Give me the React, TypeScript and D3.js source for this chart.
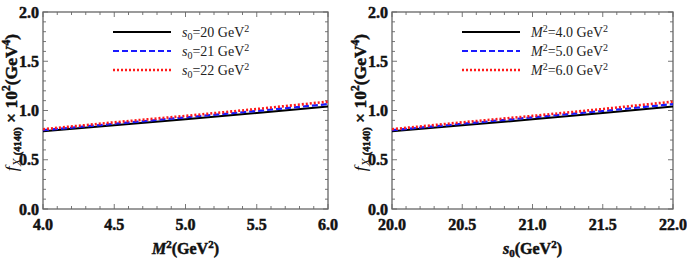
import React, { useEffect, useRef } from 'react';
import * as d3 from 'd3';

// decay constant vs. Borel mass (left) and threshold (right)
const borelM2 = [4.0, 4.5, 5.0, 5.5, 6.0];
const thresholdS0 = [20.0, 20.5, 21.0, 21.5, 22.0];

const lowSeries = [0.79, 0.85, 0.91, 0.975, 1.04];
const midSeries = [0.8, 0.865, 0.93, 0.995, 1.065];
const highSeries = [0.81, 0.88, 0.945, 1.015, 1.09];

const leftLegend = ['20', '21', '22'];
const rightLegend = ['4.0', '5.0', '6.0'];

const yTicks = [0, 0.5, 1.0, 1.5, 2.0];

const FONT = '"Liberation Serif", "Times New Roman", serif';

const styles = [
  { color: '#000000', dash: null, width: 2 },
  { color: '#1a1aff', dash: '6,3', width: 2.2 },
  { color: '#ff1a1a', dash: '2,2', width: 2.6 },
];

interface PanelProps {
  left: number;
  width: number;
  xs: number[];
  xDomain: [number, number];
  legend: string[];
  legendKind: 's0' | 'M2';
  xTitle: 's0' | 'M2';
}

// faux-bold: a thin stroke of the same colour thickens the glyphs
function heavy(sel: d3.Selection<SVGTextElement, unknown, null, undefined>) {
  return sel.attr('font-weight', 'bold').attr('stroke', '#111').attr('stroke-width', 0.5)
    .attr('fill', '#111');
}

function Panel({ left, width, xs, xDomain, legend, legendKind, xTitle }: PanelProps) {
  const ref = useRef<SVGGElement>(null);

  useEffect(() => {
    if (!ref.current) return;
    const g = d3.select(ref.current);
    g.selectAll('*').remove();

    const w = width;
    const top = 12;
    const bottom = 209;

    const x = d3.scaleLinear().domain(xDomain).range([0, w]);
    const y = d3.scaleLinear().domain([0, 2]).range([bottom, top]);

    // ticks on all four sides, pointing inward
    const xMinor = d3.range(xDomain[0], xDomain[1] + 1e-9, 0.1);
    const yMinor = d3.range(0, 2 + 1e-9, 0.1);
    const tickColor = '#777';
    xMinor.forEach((v, i) => {
      const len = i % 5 === 0 ? 5 : 3;
      const px = x(v);
      g.append('line').attr('x1', px).attr('x2', px).attr('y1', bottom).attr('y2', bottom - len)
        .attr('stroke', tickColor).attr('stroke-width', 1);
      g.append('line').attr('x1', px).attr('x2', px).attr('y1', top).attr('y2', top + len)
        .attr('stroke', tickColor).attr('stroke-width', 1);
    });
    yMinor.forEach((v, i) => {
      const len = i % 5 === 0 ? 5 : 3;
      const py = y(v);
      g.append('line').attr('x1', 0).attr('x2', len).attr('y1', py).attr('y2', py)
        .attr('stroke', tickColor).attr('stroke-width', 1);
      g.append('line').attr('x1', w).attr('x2', w - len).attr('y1', py).attr('y2', py)
        .attr('stroke', tickColor).attr('stroke-width', 1);
    });

    g.append('rect').attr('x', 0).attr('y', top).attr('width', w).attr('height', bottom - top)
      .attr('fill', 'none').attr('stroke', '#666').attr('stroke-width', 1.3);

    // tick labels
    const xTicks = d3.range(xDomain[0], xDomain[1] + 1e-9, 0.5);
    xTicks.forEach(v => {
      heavy(g.append('text').attr('x', x(v)).attr('y', 230).attr('text-anchor', 'middle')
        .attr('font-family', FONT).attr('font-size', 16)).text(v.toFixed(1));
    });
    yTicks.forEach(v => {
      heavy(g.append('text').attr('x', -4).attr('y', y(v) + 5.5).attr('text-anchor', 'end')
        .attr('font-family', FONT).attr('font-size', 16)).text(v.toFixed(1));
    });

    // curves
    const series = [lowSeries, midSeries, highSeries];
    const line = d3.line<number>().x((_, i) => x(xs[i])).y(d => y(d));
    series.forEach((s, i) => {
      const st = styles[i];
      const p = g.append('path').attr('d', line(s)).attr('fill', 'none')
        .attr('stroke', st.color).attr('stroke-width', st.width);
      if (st.dash) p.attr('stroke-dasharray', st.dash);
    });

    // legend
    legend.forEach((lab, i) => {
      const st = styles[i];
      const ly = 32 + i * 19;
      const p = g.append('line').attr('x1', 70).attr('x2', 128).attr('y1', ly).attr('y2', ly)
        .attr('stroke', st.color).attr('stroke-width', st.width);
      if (st.dash) p.attr('stroke-dasharray', st.dash);
      const t = g.append('text').attr('x', 139).attr('y', ly + 4.5)
        .attr('font-family', FONT).attr('font-size', 14).attr('fill', '#222');
      if (legendKind === 's0') {
        t.append('tspan').attr('font-style', 'italic').text('s');
        t.append('tspan').attr('font-size', 10).attr('dy', 3).text('0');
        t.append('tspan').attr('dy', -3).text(`=${lab} GeV`);
        t.append('tspan').attr('font-size', 10).attr('dy', -5).text('2');
      } else {
        t.append('tspan').attr('font-style', 'italic').text('M');
        t.append('tspan').attr('font-size', 10).attr('dy', -5).text('2');
        t.append('tspan').attr('dy', 5).text(`=${lab} GeV`);
        t.append('tspan').attr('font-size', 10).attr('dy', -5).text('2');
      }
    });

    // x-axis title
    const xt = heavy(g.append('text').attr('x', w / 2).attr('y', 254).attr('text-anchor', 'middle')
      .attr('font-family', FONT).attr('font-size', 16));
    if (xTitle === 'M2') {
      xt.append('tspan').attr('font-style', 'italic').text('M');
      xt.append('tspan').attr('font-size', 11).attr('dy', -6).text('2');
      xt.append('tspan').attr('dy', 6).text('(GeV');
    } else {
      xt.append('tspan').attr('font-style', 'italic').text('s');
      xt.append('tspan').attr('font-size', 11).attr('dy', 3).text('0');
      xt.append('tspan').attr('dy', -3).text('(GeV');
    }
    xt.append('tspan').attr('font-size', 11).attr('dy', -6).text('2');
    xt.append('tspan').attr('dy', 6).text(')');

    // y-axis title
    const yt = heavy(g.append('text').attr('transform', `translate(-26,${(top + bottom) / 2 - 8}) rotate(-90)`)
      .attr('text-anchor', 'middle').attr('font-family', FONT).attr('font-size', 17.5));
    yt.append('tspan').attr('font-style', 'italic').attr('font-weight', 'normal')
      .attr('stroke', 'none').text('f');
    yt.append('tspan').attr('font-size', 13).attr('dy', 4).attr('font-style', 'italic')
      .attr('font-weight', 'normal').attr('stroke', 'none').text('X');
    yt.append('tspan').attr('font-size', 10.5).attr('dx', 3).text('(4140)');
    yt.append('tspan').attr('dy', -4).text(' × 10');
    yt.append('tspan').attr('font-size', 11.5).attr('dy', -7).text('2');
    yt.append('tspan').attr('dy', 7).text('(GeV');
    yt.append('tspan').attr('font-size', 11.5).attr('dy', -7).text('4');
    yt.append('tspan').attr('dy', 7).text(')');

    g.attr('transform', `translate(${left},0)`);
  }, [left, width, xs, xDomain, legend, legendKind, xTitle]);

  return <g ref={ref} />;
}

export default function App() {
  return (
    <svg width={687} height={261} style={{ position: 'absolute', left: 0, top: 0, background: '#fff' }}>
      <Panel left={43} width={285} xs={borelM2} xDomain={[4, 6]} legend={leftLegend} legendKind="s0" xTitle="M2" />
      <Panel left={392} width={281} xs={thresholdS0} xDomain={[20, 22]} legend={rightLegend} legendKind="M2" xTitle="s0" />
    </svg>
  );
}
